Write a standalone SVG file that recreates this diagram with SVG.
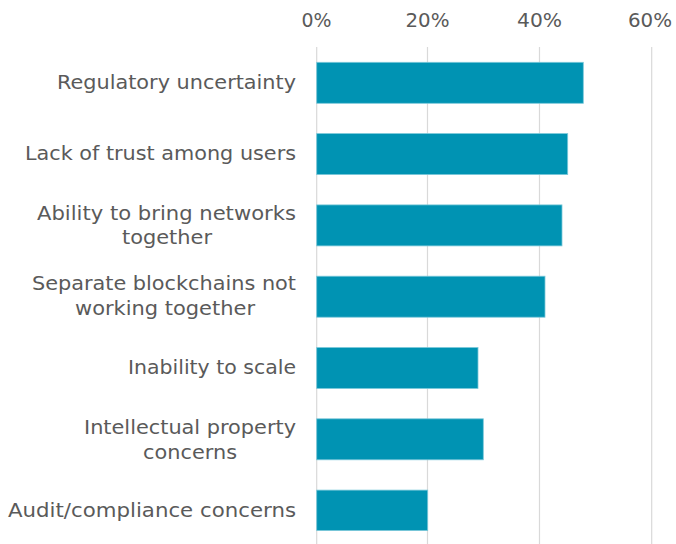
<svg xmlns="http://www.w3.org/2000/svg" width="676" height="544" viewBox="0 0 676 544">
<style>
.lbl{font-family:"DejaVu Sans","Liberation Sans",sans-serif;font-size:20px;fill:#5a5a5a}
.r{text-anchor:end}
.m{text-anchor:middle}
.grid{stroke:#d9d9d9;stroke-width:1.2}
.bar{fill:#0093b3;stroke:#7cc9da;stroke-width:0.8}
</style>
<rect width="676" height="544" fill="#ffffff"/>
<g id="axis">
<line class="grid" x1="316.7" y1="47" x2="316.7" y2="544"/>
<line class="grid" x1="427.5" y1="47" x2="427.5" y2="544"/>
<line class="grid" x1="539.5" y1="47" x2="539.5" y2="544"/>
<line class="grid" x1="651.7" y1="47" x2="651.7" y2="544"/>
<text class="lbl m" x="316.5" y="27" textLength="30" lengthAdjust="spacingAndGlyphs">0%</text>
<text class="lbl m" x="427.5" y="27" textLength="44" lengthAdjust="spacingAndGlyphs">20%</text>
<text class="lbl m" x="539.5" y="27" textLength="45" lengthAdjust="spacingAndGlyphs">40%</text>
<text class="lbl m" x="650" y="27" textLength="44" lengthAdjust="spacingAndGlyphs">60%</text>
</g>
<g id="bar1"><rect class="bar" x="316.7" y="62.3" width="266.6" height="41"/><text class="lbl r" x="296" y="89" textLength="239" lengthAdjust="spacingAndGlyphs">Regulatory uncertainty</text></g>
<g id="bar2"><rect class="bar" x="316.7" y="133.6" width="251" height="41"/><text class="lbl r" x="296" y="160" textLength="271" lengthAdjust="spacingAndGlyphs">Lack of trust among users</text></g>
<g id="bar3"><rect class="bar" x="316.7" y="204.9" width="245.3" height="41"/><text class="lbl r" x="296" y="220" textLength="259" lengthAdjust="spacingAndGlyphs">Ability to bring networks</text><text class="lbl m" x="167" y="244" textLength="90" lengthAdjust="spacingAndGlyphs">together</text></g>
<g id="bar4"><rect class="bar" x="316.7" y="276.2" width="228.3" height="41"/><text class="lbl r" x="296" y="290" textLength="264" lengthAdjust="spacingAndGlyphs">Separate blockchains not</text><text class="lbl m" x="165" y="315" textLength="180" lengthAdjust="spacingAndGlyphs">working together</text></g>
<g id="bar5"><rect class="bar" x="316.7" y="347.5" width="161.3" height="41"/><text class="lbl r" x="296" y="374" textLength="168" lengthAdjust="spacingAndGlyphs">Inability to scale</text></g>
<g id="bar6"><rect class="bar" x="316.7" y="418.8" width="166.6" height="41"/><text class="lbl r" x="296" y="434" textLength="212" lengthAdjust="spacingAndGlyphs">Intellectual property</text><text class="lbl m" x="190" y="459" textLength="94" lengthAdjust="spacingAndGlyphs">concerns</text></g>
<g id="bar7"><rect class="bar" x="316.7" y="490.1" width="111" height="40.5"/><text class="lbl r" x="296" y="517" textLength="288" lengthAdjust="spacingAndGlyphs">Audit/compliance concerns</text></g>
</svg>
